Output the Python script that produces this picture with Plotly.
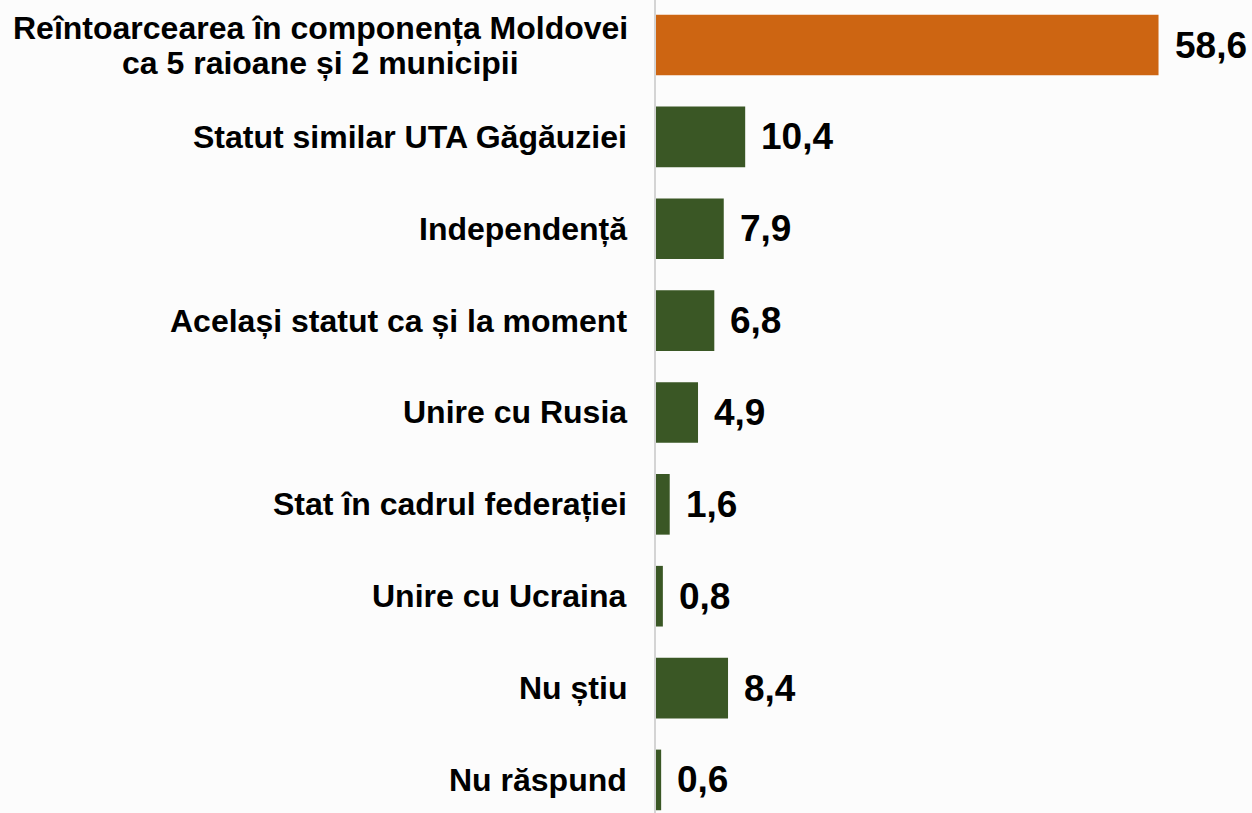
import plotly.graph_objects as go

categories = [
    "Reîntoarcearea în componența Moldovei<br>ca 5 raioane și 2 municipii",
    "Statut similar UTA Găgăuziei",
    "Independență",
    "Același statut ca și la moment",
    "Unire cu Rusia",
    "Stat în cadrul federației",
    "Unire cu Ucraina",
    "Nu știu",
    "Nu răspund",
]
values = [58.6, 10.4, 7.9, 6.8, 4.9, 1.6, 0.8, 8.4, 0.6]
value_labels = ["58,6", "10,4", "7,9", "6,8", "4,9", "1,6", "0,8", "8,4", "0,6"]

ORANGE = "#CD6512"
GREEN = "#3A5725"
FONT = "Liberation Sans, Arial, sans-serif"
LABEL_GAP = 27      # px between label block and axis
LINE_GAP = 35       # px between lines of a wrapped label
WRAP_BLOCK_W = 617  # px width of the longest wrapped line

bar_colors = [ORANGE if i == 0 else GREEN for i in range(len(values))]

fig = go.Figure()
fig.add_trace(go.Bar(
    x=values,
    y=categories,
    orientation="h",
    marker=dict(color=bar_colors, line=dict(width=0)),
    width=0.66,
    hoverinfo="skip",
))

label_font = dict(family=FONT, size=32, color="#000000", weight="bold")
value_font = dict(family=FONT, size=37, color="#000000", weight="bold")

annotations = []
for cat, val, lab in zip(categories, values, value_labels):
    lines = cat.split("<br>")
    n = len(lines)
    if n == 1:
        annotations.append(dict(
            x=0, y=cat, xref="x", yref="y", text=cat, showarrow=False,
            xanchor="right", yanchor="middle", xshift=-LABEL_GAP,
            font=label_font,
        ))
    else:
        for k, line in enumerate(lines):
            annotations.append(dict(
                x=0, y=cat, xref="x", yref="y", text=line, showarrow=False,
                xanchor="center", yanchor="middle",
                xshift=-(LABEL_GAP + WRAP_BLOCK_W / 2),
                yshift=((n - 1) / 2 - k) * LINE_GAP,
                font=label_font,
            ))
    annotations.append(dict(
        x=val, y=cat, xref="x", yref="y", text=lab, showarrow=False,
        xanchor="left", yanchor="middle", xshift=14,
        font=value_font,
    ))

fig.update_layout(
    width=1252, height=813,
    margin=dict(l=656, r=0, t=0, b=0, pad=0),
    paper_bgcolor="#FCFCFC",
    plot_bgcolor="rgba(0,0,0,0)",
    showlegend=False,
    annotations=annotations,
    xaxis=dict(range=[0, 69.5], visible=False, fixedrange=True),
    yaxis=dict(
        type="category",
        categoryorder="array", categoryarray=categories,
        range=[8.36, -0.49],
        showticklabels=False, ticks="",
        showgrid=False, zeroline=False,
        showline=True, linecolor="#D4D4D4", linewidth=2,
        fixedrange=True,
    ),
)

fig.write_html(
    "out.html",
    config={"displayModeBar": False},
    post_script="document.body.style.margin='0';document.body.style.overflow='hidden';",
)
